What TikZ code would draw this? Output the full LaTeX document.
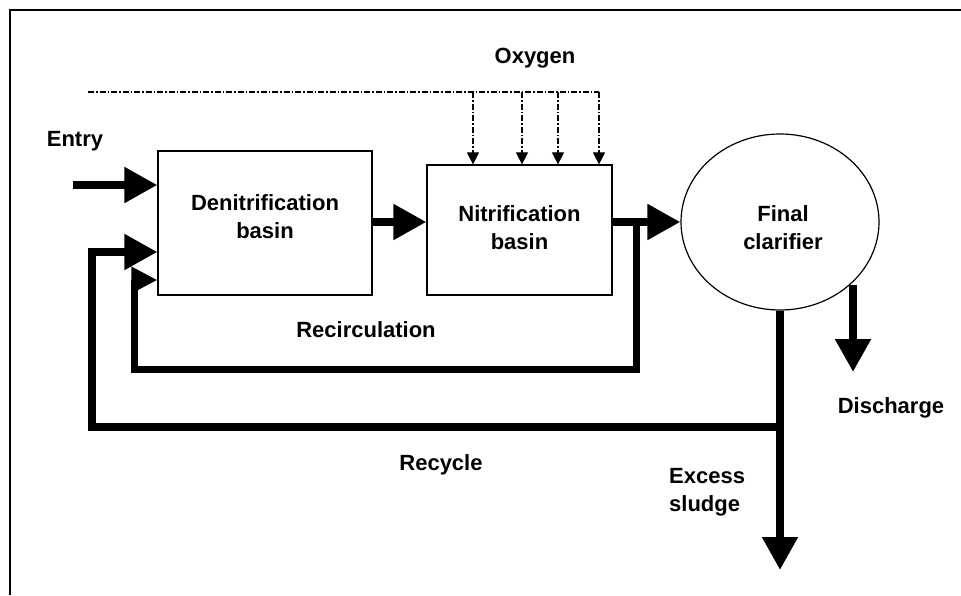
\documentclass[tikz,border=0pt]{standalone}
\usepackage{fontspec}
\setmainfont{Liberation Sans}
\usetikzlibrary{arrows.meta,shapes.geometric}
\tikzset{
  lbl/.style={font=\fontsize{22}{28}\selectfont\bfseries, align=center, inner sep=0pt},
  box/.style={draw, line width=1.2pt, rectangle, inner sep=0pt},
  flow/.style={line width=8pt, line join=miter, -{Triangle[length=33pt,width=34pt]}},
  recirc/.style={line width=7pt, line join=miter, -{Triangle[length=26pt,width=25pt]}},
  oxy/.style={line width=1.1pt, dash pattern=on 6pt off 2pt on 1.5pt off 2pt},
  oxyarrow/.style={oxy, -{Triangle[length=12pt,width=12pt]}},
  frame/.style={line width=2.5pt}
}
\begin{document}
\begin{tikzpicture}[x=1pt,y=-1pt]
\useasboundingbox (0,0) rectangle (961,595);
\draw[frame] (10,595) -- (10,10) -- (961,10);

% units
\node[box, minimum width=214pt, minimum height=144pt] (den) at (265,223) {};
\node[lbl] (denT) at (265,217) {Denitrification\\basin};
\node[box, minimum width=185pt, minimum height=130pt] (nit) at (519.5,230) {};
\node[lbl] (nitT) at (519.5,228) {Nitrification\\basin};
\node[draw, ellipse, line width=1.2pt, minimum width=198pt, minimum height=176pt] (clar) at (780,222) {};
\node[lbl] (clarT) at (783,228) {Final\\clarifier};

% labels
\node[lbl] (oxyL) at (535,58) {Oxygen};
\node[lbl] (entryL) at (75,141) {Entry};
\node[lbl] (recircL) at (366,330) {Recirculation};
\node[lbl] (recycleL) at (441,465) {Recycle};
\node[lbl] (dischL) at (891,408) {Discharge};
\node[lbl, align=left, anchor=west] (excessL) at (669,492) {Excess\\sludge};

% coordinates
\coordinate (in) at (73,185);
\coordinate (j1) at (636,222);
\coordinate (rc) at (134,280);
\coordinate (j2) at (780,427);
\coordinate (rcy) at (92,252);
\coordinate (ex) at (780,570);
\coordinate (ds) at (853,285);
\coordinate (dt) at (853,372);
\coordinate (o0) at (88,92);
\coordinate (o1) at (473,92);
\coordinate (o2) at (522,92);
\coordinate (o3) at (558,92);
\coordinate (o4) at (599,92);

% main flow
\draw[flow] (in) -- (in -| den.west);
\draw[flow] (den.east |- j1) -- (nit.west |- j1);
\draw[flow] (nit.east |- j1) -- (clar.west);

% recirculation
\draw[recirc] (j1) -- (636,369) -| (rc) -- (rc -| den.west);

% recycle and excess sludge
\draw[flow] (clar.south) -- (ex);
\draw[flow] (j2) -| (rcy) -- (rcy -| den.west);

% discharge
\draw[flow] (ds) -- (dt);

% oxygen
\draw[oxy] (o0) -- (o4);
\draw[oxyarrow] (o1) -- (o1 |- nit.north);
\draw[oxyarrow] (o2) -- (o2 |- nit.north);
\draw[oxyarrow] (o3) -- (o3 |- nit.north);
\draw[oxyarrow] (o4) -- (o4 |- nit.north);
\end{tikzpicture}
\end{document}
